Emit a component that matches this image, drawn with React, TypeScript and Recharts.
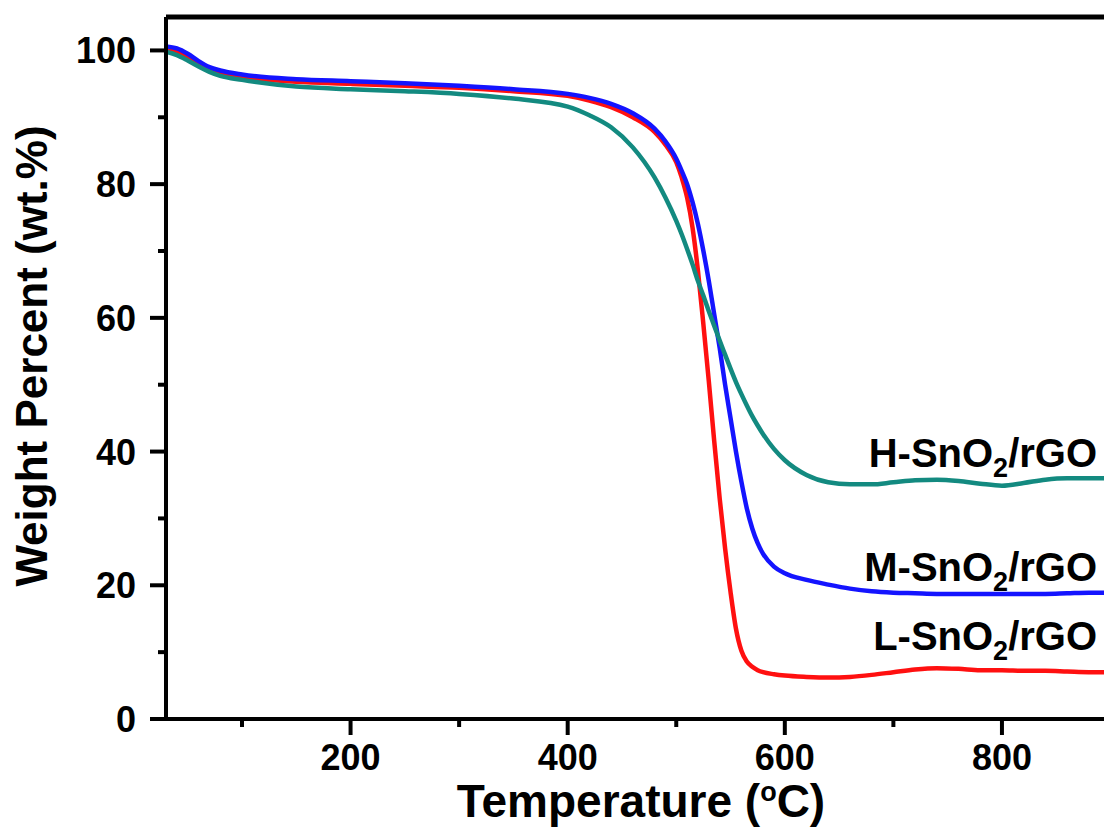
import React from 'react';
import { LineChart, Line, XAxis, YAxis, ReferenceLine, ReferenceDot, Label } from 'recharts';

// Temperature (°C)
const temperatures = [
  30, 40, 50, 60, 70, 80, 100, 150, 200, 250, 300, 350, 400, 420, 440, 460, 480, 490, 500, 505,
  510, 515, 520, 525, 530, 535, 540, 545, 550, 555, 560, 565, 570, 575, 580, 590, 600, 620, 640, 660,
  680, 700, 720, 740, 760, 780, 800, 820, 840, 860, 880, 894,
];

// Weight percent (wt.%)
const lSnO2 = [
  100.3, 99.9, 99.0, 97.9, 97.0, 96.5, 96.0, 95.3, 95.0, 94.7, 94.4, 93.9, 93.2, 92.5, 91.5, 90.0, 87.8, 85.9, 83.3, 81.0,
  78.0, 73.5, 67.0, 59.0, 50.5, 41.5, 33.0, 25.5, 19.0, 13.5, 10.2, 8.6, 7.8, 7.3, 7.0, 6.7, 6.5, 6.3, 6.2, 6.3,
  6.6, 7.0, 7.4, 7.6, 7.5, 7.3, 7.3, 7.2, 7.2, 7.1, 7.0, 7.0,
];
const mSnO2 = [
  100.6, 100.3, 99.5, 98.4, 97.5, 97.0, 96.4, 95.7, 95.4, 95.1, 94.7, 94.2, 93.5, 92.9, 92.0, 90.6, 88.3, 86.4, 83.8, 82.0,
  80.0, 77.3, 74.0, 70.0, 65.5, 60.5, 55.5, 50.0, 45.0, 40.0, 35.5, 31.5, 28.5, 26.3, 24.7, 22.8, 21.8, 20.8, 20.1, 19.5,
  19.1, 18.9, 18.8, 18.7, 18.7, 18.7, 18.7, 18.7, 18.7, 18.8, 18.9, 18.9,
];
const hSnO2 = [
  99.8, 99.3, 98.5, 97.6, 96.8, 96.2, 95.6, 94.6, 94.2, 93.9, 93.5, 92.8, 91.6, 90.3, 88.5, 85.5, 81.0, 78.0, 74.5, 72.5,
  70.3, 68.0, 65.5, 63.3, 61.0, 58.8, 56.6, 54.5, 52.4, 50.4, 48.6, 46.9, 45.3, 43.9, 42.6, 40.4, 38.7, 36.5, 35.4, 35.1,
  35.1, 35.4, 35.7, 35.8, 35.6, 35.2, 34.9, 35.3, 35.8, 36.0, 36.0, 36.0,
];

const xTicks = [100, 200, 300, 400, 500, 600, 700, 800];
const xMajorTicks = [200, 400, 600, 800];
const yTicks = [0, 10, 20, 30, 40, 50, 60, 70, 80, 90, 100];
const yMajorTicks = [0, 20, 40, 60, 80, 100];
const seriesNames = ['L', 'M', 'H'];

const data = temperatures.map((t, i) => ({ t, L: lSnO2[i], M: mSnO2[i], H: hSnO2[i] }));

const FONT = '"Liberation Sans", Arial, Helvetica, sans-serif';

const XTick = (props: any) => {
  const { x, y, payload } = props;
  const major = xMajorTicks.includes(payload.value);
  return (
    <g>
      <line x1={x} x2={x} y1={y} y2={y + (major ? 16 : 8)} stroke="#000" strokeWidth={4} />
      {major && (
        <text x={x} y={y + 25} dy="0.71em" textAnchor="middle" fill="#000" fontSize={36} fontWeight="bold" fontFamily={FONT}>
          {payload.value}
        </text>
      )}
    </g>
  );
};

const YTick = (props: any) => {
  const { x, y, payload } = props;
  const major = yMajorTicks.includes(payload.value);
  return (
    <g>
      <line x1={x} x2={x - (major ? 16 : 8)} y1={y} y2={y} stroke="#000" strokeWidth={4} />
      {major && (
        <text x={x - 30} y={y} dy="0.36em" textAnchor="end" fill="#000" fontSize={36} fontWeight="bold" fontFamily={FONT}>
          {payload.value}
        </text>
      )}
    </g>
  );
};

const seriesLabel = (prefix: string) => (props: any) => {
  const vb = props.viewBox || {};
  const x = (vb.x || 0) + (vb.width || 0) / 2;
  const y = (vb.y || 0) + (vb.height || 0) / 2;
  return (
    <text x={x} y={y} textAnchor="end" fill="#000" fontSize={40} fontWeight="bold" fontFamily={FONT}>
      <tspan>{prefix}-SnO</tspan>
      <tspan fontSize={27} dy={10}>2</tspan>
      <tspan dy={-10}>/rGO</tspan>
    </text>
  );
};

const XTitle = (props: any) => {
  const vb = props.viewBox || { x: 0, y: 0, width: 0 };
  return (
    <text x={vb.x + vb.width / 2 + 6} y={vb.y + 98} textAnchor="middle" fill="#000" fontSize={46} fontWeight="bold" fontFamily={FONT}>
      <tspan>Temperature (</tspan>
      <tspan fontSize={27} dy={-16}>o</tspan>
      <tspan dy={16}>C)</tspan>
    </text>
  );
};

const YTitle = (props: any) => {
  const vb = props.viewBox || { x: 0, y: 0, height: 0 };
  const cx = vb.x + 47;
  const cy = vb.y + vb.height / 2 - 12;
  return (
    <text x={cx} y={cy} transform={`rotate(-90, ${cx}, ${cy})`} textAnchor="middle" fill="#000" fontSize={44} fontWeight="bold" fontFamily={FONT}>
      Weight Percent (wt.%)
    </text>
  );
};

export default function App() {
  return (
    <div style={{ position: 'absolute', left: 0, top: 0, background: '#fff' }}>
      <LineChart width={1104} height={827} data={data} margin={{ top: 17, right: 0, bottom: 0, left: 0 }}>
        <XAxis
          dataKey="t"
          type="number"
          domain={[30, 894]}
          ticks={xTicks}
          interval={0}
          allowDataOverflow
          height={108}
          tickSize={0}
          tickMargin={0}
          tickLine={false}
          axisLine={{ stroke: '#000', strokeWidth: 4 }}
          tick={<XTick />}
        >
          <Label content={<XTitle />} />
        </XAxis>
        <YAxis
          type="number"
          domain={[0, 105]}
          ticks={yTicks}
          interval={0}
          allowDataOverflow
          width={166}
          tickSize={0}
          tickMargin={0}
          tickLine={false}
          axisLine={{ stroke: '#000', strokeWidth: 4 }}
          tick={<YTick />}
        >
          <Label content={<YTitle />} />
        </YAxis>
        <ReferenceLine y={105} stroke="#000" strokeWidth={5} ifOverflow="visible" />
        <Line type="monotone" dataKey={seriesNames[0]} stroke="#ff1010" strokeWidth={4.5} dot={false} isAnimationActive={false} />
        <Line type="monotone" dataKey={seriesNames[1]} stroke="#1414ff" strokeWidth={4.5} dot={false} isAnimationActive={false} />
        <Line type="monotone" dataKey={seriesNames[2]} stroke="#138a80" strokeWidth={4.5} dot={false} isAnimationActive={false} />
        <ReferenceDot x={887.6} y={37.7} r={1} fill="none" stroke="none" ifOverflow="visible" label={{ content: seriesLabel('H') }} />
        <ReferenceDot x={887.6} y={20.6} r={1} fill="none" stroke="none" ifOverflow="visible" label={{ content: seriesLabel('M') }} />
        <ReferenceDot x={887.6} y={10.3} r={1} fill="none" stroke="none" ifOverflow="visible" label={{ content: seriesLabel('L') }} />
      </LineChart>
    </div>
  );
}
